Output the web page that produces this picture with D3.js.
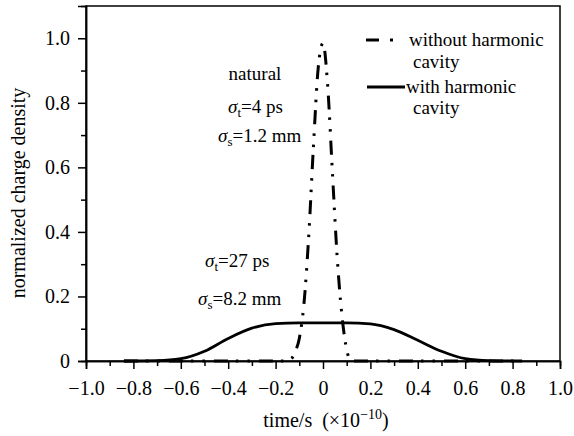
<!DOCTYPE html>
<html>
<head>
<meta charset="utf-8">
<script src="https://cdn.jsdelivr.net/npm/d3@7"></script>
<style>
body { margin: 0; background: #fff; }
svg text { font-family: "Liberation Serif", "Times New Roman", "DejaVu Serif", serif !important; fill: #000; }
</style>
</head>
<body>
<script>
const margin = {top: 6, right: 14, bottom: 75, left: 86};
const width = 574 - margin.left - margin.right;
const height = 436 - margin.top - margin.bottom;
const serif = "'Liberation Serif', 'Times New Roman', 'DejaVu Serif', serif";

// time (x1e-10 s) and density
const timeNoHC = [-0.84, -0.6, -0.4, -0.2, -0.15, -0.13, -0.12, -0.10, -0.08, -0.06, -0.04, -0.02, 0, 0.02, 0.04, 0.06, 0.08, 0.10, 0.11, 0.12, 0.2, 0.4, 0.6, 0.84];
const densNoHC = [0, 0, 0, 0, 0, 0.01, 0.025, 0.07, 0.18, 0.39, 0.67, 0.91, 0.985, 0.85, 0.58, 0.32, 0.14, 0.035, 0.008, 0, 0, 0, 0, 0];
const timeHC = [-0.84, -0.7, -0.6, -0.5, -0.4, -0.3, -0.2, -0.1, 0, 0.1, 0.2, 0.3, 0.4, 0.5, 0.6, 0.7, 0.84];
const densHC = [0, 0.001, 0.007, 0.03, 0.07, 0.102, 0.116, 0.118, 0.118, 0.118, 0.115, 0.097, 0.064, 0.03, 0.007, 0.001, 0];
const xTicks = [-1.0, -0.8, -0.6, -0.4, -0.2, 0, 0.2, 0.4, 0.6, 0.8, 1.0];
const xMinor = [-0.9, -0.7, -0.5, -0.3, -0.1, 0.1, 0.3, 0.5, 0.7, 0.9];
const yTicks = [0, 0.2, 0.4, 0.6, 0.8, 1.0];
const yMinor = [0.1, 0.3, 0.5, 0.7, 0.9];

var xScale = d3.scaleLinear().domain([-1, 1]).range([0, width]);
var yScale = d3.scaleLinear().domain([0, 1.1]).range([height, 0]);

var fmt = function(d) { return d === 0 ? "0" : d3.format(".1f")(d).replace("-", "\u2212"); };

var svg = d3.select("body").append("svg")
    .attr("width", 574)
    .attr("height", 436)
    .append("g")
    .attr("transform", "translate(" + margin.left + "," + margin.top + ")");

// frame
svg.append("rect")
    .attr("width", width).attr("height", height)
    .attr("fill", "none").attr("stroke", "#000").attr("stroke-width", 1.5);

svg.append("g")
    .attr("transform", "translate(0," + height + ")")
    .call(d3.axisBottom(xScale).tickValues(xTicks).tickFormat(fmt).tickSize(8).tickPadding(12));
svg.append("g")
    .attr("transform", "translate(0," + height + ")")
    .call(d3.axisBottom(xScale).tickValues(xMinor).tickFormat("").tickSize(5));
svg.append("g")
    .call(d3.axisLeft(yScale).tickValues(yTicks).tickFormat(fmt).tickSize(8).tickPadding(8));
svg.append("g")
    .call(d3.axisLeft(yScale).tickValues(yMinor).tickFormat("").tickSize(5));

svg.selectAll("g").attr("font-family", serif);
svg.selectAll(".domain").attr("stroke-width", 1.5);
svg.selectAll(".tick line").attr("stroke-width", 1.5);
svg.selectAll(".tick text").attr("font-size", 20);

var line = d3.line()
    .x(function(d) { return xScale(d[0]); })
    .y(function(d) { return yScale(d[1]); })
    .curve(d3.curveMonotoneX);

svg.append("path")
    .datum(timeHC.map(function(t, i) { return [t, densHC[i]]; }))
    .attr("d", line)
    .attr("fill", "none").attr("stroke", "#000").attr("stroke-width", 2.8);

svg.append("path")
    .datum(timeNoHC.map(function(t, i) { return [t, densNoHC[i]]; }))
    .attr("d", line)
    .attr("fill", "none").attr("stroke", "#000").attr("stroke-width", 3)
    .attr("stroke-dasharray", "14,8,2.5,9,2.5,9");

// axis titles
svg.append("text")
    .attr("transform", "translate(" + (25 - margin.left) + "," + (193 - margin.top) + ") rotate(-90)")
    .attr("text-anchor", "middle")
    .attr("font-family", serif)
    .style("font-size", "20px")
    .text("normalized charge density");

var xt = svg.append("text")
    .attr("x", xScale(0) + 3)
    .attr("y", 427 - margin.top)
    .attr("text-anchor", "middle")
    .attr("font-family", serif)
    .style("font-size", "20px");
xt.append("tspan").text("time/s\u00a0\u00a0(\u00d710");
xt.append("tspan").attr("dy", -8).style("font-size", "14px").text("\u221210");
xt.append("tspan").attr("dy", 8).text(")");

// annotations
function sigma(x, y, sub, rest) {
    var t = svg.append("text")
        .attr("x", x - margin.left).attr("y", y - margin.top)
        .attr("font-family", serif)
        .style("font-size", "19px");
    t.append("tspan").style("font-style", "italic").text("\u03c3");
    t.append("tspan").attr("dy", 4).style("font-size", "13px").text(sub);
    t.append("tspan").attr("dy", -4).text(rest);
}
svg.append("text")
    .attr("x", 255 - margin.left).attr("y", 80 - margin.top)
    .attr("text-anchor", "middle")
    .attr("font-family", serif)
    .style("font-size", "19px")
    .text("natural");
sigma(228, 113, "t", "=4 ps");
sigma(218, 142, "s", "=1.2 mm");
sigma(205, 267, "t", "=27 ps");
sigma(198, 305, "s", "=8.2 mm");

// legend
var lg = svg.append("g").attr("transform", "translate(" + (-margin.left) + "," + (-margin.top) + ")");
lg.append("line").attr("x1", 366).attr("x2", 379).attr("y1", 40).attr("y2", 40)
    .attr("stroke", "#000").attr("stroke-width", 3);
lg.append("line").attr("x1", 390).attr("x2", 393).attr("y1", 40).attr("y2", 40)
    .attr("stroke", "#000").attr("stroke-width", 3);
lg.append("line").attr("x1", 367).attr("x2", 405).attr("y1", 87).attr("y2", 87)
    .attr("stroke", "#000").attr("stroke-width", 2.8);
var legendText = [["without harmonic", 409, 46], ["cavity", 413, 68], ["with harmonic", 406, 93], ["cavity", 413, 114]];
lg.selectAll("text.leg").data(legendText).enter().append("text")
    .attr("class", "leg")
    .attr("x", function(d) { return d[1]; })
    .attr("y", function(d) { return d[2]; })
    .attr("font-family", serif)
    .style("font-size", "19px")
    .text(function(d) { return d[0]; });
</script>
</body>
</html>
